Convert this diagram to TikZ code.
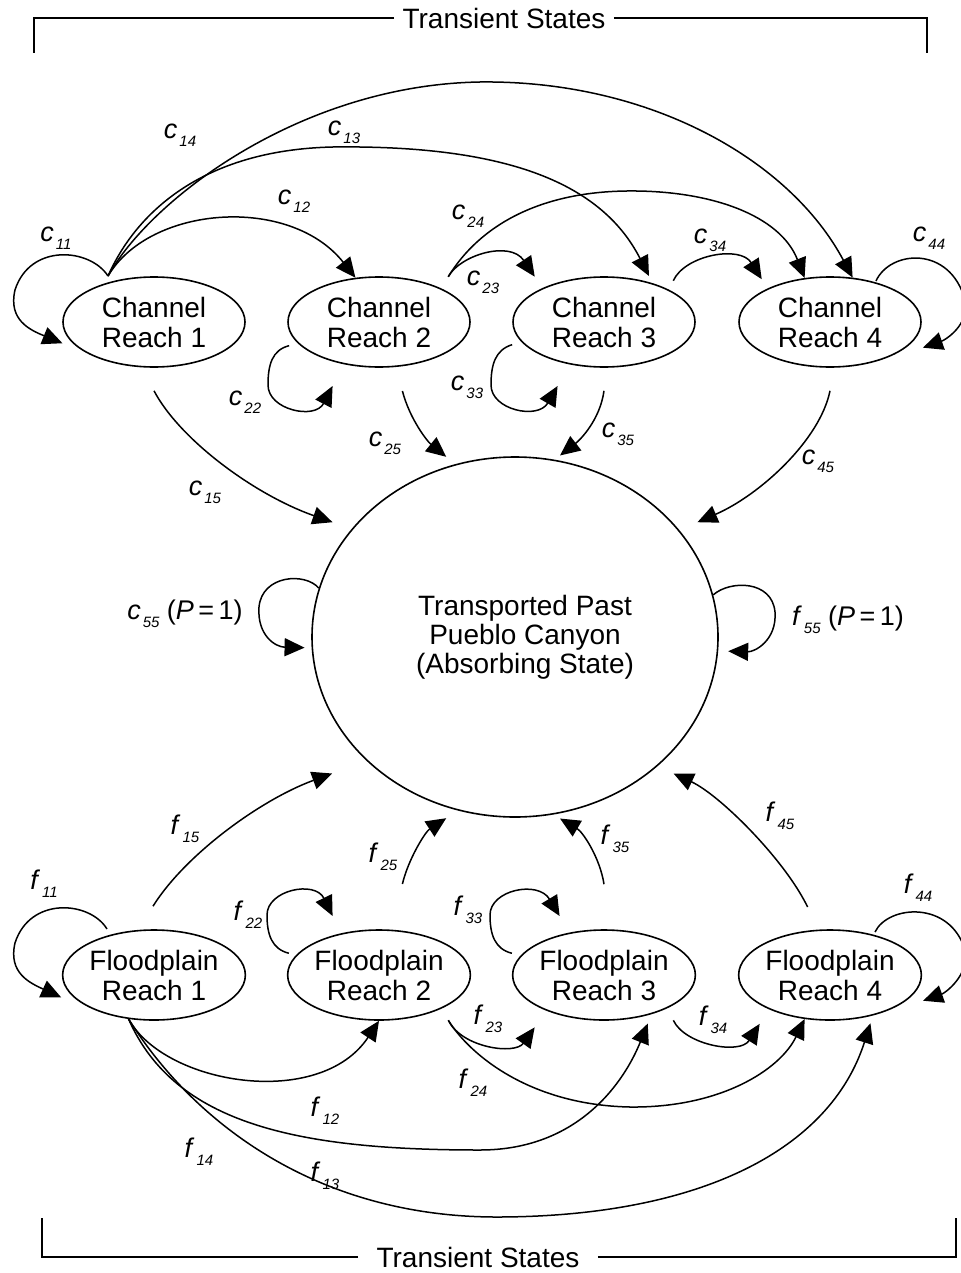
\documentclass[tikz,border=0pt]{standalone}
\usepackage{fontspec}
\setmainfont{Liberation Sans}
\usetikzlibrary{arrows.meta,shapes.geometric}

\newcommand{\lbl}[2]{\textit{#1}\kern1pt\raisebox{-4pt}{\fontsize{7.5}{8}\selectfont\textit{#2}}}

\tikzset{
	reach/.style={ellipse, draw, line width=0.8pt, minimum width=91pt, minimum height=45pt, inner sep=0pt, align=center, font=\fontsize{14}{15}\selectfont},
	absorb/.style={ellipse, draw, line width=0.8pt, minimum width=203pt, minimum height=180pt, inner sep=0pt, align=center, font=\fontsize{14}{14.5}\selectfont},
	arr/.style={-{Triangle[length=10pt,width=9pt]}, line width=0.75pt},
	lab/.style={inner sep=0pt, font=\fontsize{13.5}{14}\selectfont},
	bracket/.style={font=\fontsize{14}{15}\selectfont, inner ysep=0pt},
}

\begin{document}
\begin{tikzpicture}[x=0.5pt, y=-0.5pt]
	\useasboundingbox (0,0) rectangle (961,1273);
	
	\node[reach] (cr1) at (154,322) {Channel\\Reach 1};
	\node[reach] (cr2) at (379,322) {Channel\\Reach 2};
	\node[reach] (cr3) at (604,322) {Channel\\Reach 3};
	\node[reach] (cr4) at (830,322) {Channel\\Reach 4};
	\node[reach] (fr1) at (154,975) {Floodplain\\Reach 1};
	\node[reach] (fr2) at (379,975) {Floodplain\\Reach 2};
	\node[reach] (fr3) at (604,975) {Floodplain\\Reach 3};
	\node[reach] (fr4) at (830,975) {Floodplain\\Reach 4};
	\node[absorb] (ab) at (515,637) {\hspace*{10pt}Transported Past\\\hspace*{10pt}Pueblo Canyon\\\hspace*{10pt}(Absorbing State)};
	
	\node[bracket, inner xsep=4pt] (ttop) at (504,18) {Transient States};
	\node[bracket, inner xsep=9pt] (tbot) at (478,1257) {Transient States};
	\coordinate (ttl) at (34,53);
	\coordinate (ttr) at (927,53);
	\coordinate (tbl) at (42,1218);
	\coordinate (tbr) at (956,1218);
	\draw[line width=0.8pt] (ttop.west) -- (ttop.west -| ttl) -- (ttl);
	\draw[line width=0.8pt] (ttop.east) -- (ttop.east -| ttr) -- (ttr);
	\draw[line width=0.8pt] (tbot.west) -- (tbot.west -| tbl) -- (tbl);
	\draw[line width=0.8pt] (tbot.east) -- (tbot.east -| tbr) -- (tbr);
	
	\draw[arr] ([shift={(-5,-5)}]cr1.135) .. controls (90,248) and (30,243) .. (15,290) .. controls (8,320) and (30,330) .. ([shift={(-5,6)}]cr1.190);
	\draw[arr] ([shift={(-5,-5)}]cr1.135) .. controls (150,205) and (290,195) .. (cr2.118);
	\draw[arr] ([shift={(-5,-5)}]cr1.135) .. controls (135,215) and (200,150) .. (333,147) .. controls (500,145) and (600,180) .. ([shift={(4,-5)}]cr3.45);
	\draw[arr] ([shift={(-5,-5)}]cr1.135) .. controls (150,200) and (300,85) .. (480,82) .. controls (650,80) and (790,160) .. (cr4.63);
	\draw[arr] ([shift={(-9,2)}]cr2.195) .. controls (272,350) and (268,365) .. (268,385) .. controls (268,410) and (315,420) .. ([shift={(-21,20)}]cr2.240);
	\draw[arr] ([shift={(16,-8)}]cr2.35) .. controls (460,255) and (510,240) .. ([shift={(-16,-8)}]cr3.145);
	\draw[arr] ([shift={(16,-8)}]cr2.35) .. controls (480,225) and (540,192) .. (627,191) .. controls (710,190) and (780,215) .. (cr4.120);
	\draw[arr] ([shift={(-11,1)}]cr3.195) .. controls (495,350) and (491,365) .. (491,385) .. controls (491,410) and (538,420) .. ([shift={(-21,20)}]cr3.240);
	\draw[arr] ([shift={(16,-4)}]cr3.35) .. controls (685,255) and (740,245) .. ([shift={(-11,-7)}]cr4.148);
	\draw[arr] ([shift={(5,0)}]cr4.45) .. controls (890,250) and (950,245) .. (965,300) .. controls (970,325) and (945,340) .. ([shift={(12,4)}]cr4.345);
	
	\draw[arr] ([shift={(0,23)}]cr1.270) .. controls (180,440) and (255,495) .. ([shift={(-18,-8)}]ab.147);
	\draw[arr] ([shift={(-2,25)}]cr2.300) .. controls (410,420) and (428,442) .. ([shift={(0,-10)}]ab.112);
	\draw[arr] ([shift={(0,23)}]cr3.270) .. controls (600,420) and (580,440) .. ([shift={(1,-5)}]ab.76);
	\draw[arr] ([shift={(0,23)}]cr4.270) .. controls (820,440) and (760,495) .. ([shift={(18,-8)}]ab.33);
	\draw[arr] (ab.166) .. controls (305,572) and (262,575) .. (259,607) .. controls (257,635) and (275,647) .. ([shift={(-7,0)}]ab.183);
	\draw[arr] (ab.12) .. controls (730,580) and (772,580) .. (775,612) .. controls (777,640) and (755,652) .. ([shift={(10,0)}]ab.356);
	
	\draw[arr] ([shift={(-6,-5)}]fr1.135) .. controls (90,901) and (30,896) .. (15,943) .. controls (8,973) and (30,983) .. ([shift={(-6,7)}]fr1.190);
	\draw[arr] ([shift={(-1,-23)}]fr1.90) .. controls (185,855) and (260,800) .. ([shift={(-30,17)}]ab.218);
	\draw[arr] ([shift={(-2,-47)}]fr2.60) .. controls (408,860) and (425,832) .. ([shift={(0,11)}]ab.248);
	\draw[arr] ([shift={(0,-45)}]fr3.90) .. controls (600,858) and (583,832) .. ([shift={(1,5)}]ab.284);
	\draw[arr] ([shift={(3,-24)}]fr4.120) .. controls (785,860) and (720,795) .. ([shift={(13,10)}]ab.319);
	\draw[arr] ([shift={(-9,0)}]fr2.165) .. controls (272,949) and (267,935) .. (267,915) .. controls (267,890) and (315,880) .. ([shift={(-21,-15)}]fr2.120);
	\draw[arr] ([shift={(-11,0)}]fr3.165) .. controls (495,949) and (490,935) .. (490,915) .. controls (490,890) and (538,880) .. ([shift={(-19,-15)}]fr3.120);
	\draw[arr] ([shift={(4,-2)}]fr4.45) .. controls (888,905) and (950,900) .. (965,950) .. controls (970,975) and (945,993) .. ([shift={(12,4)}]fr4.345);
	
	\draw[arr] (fr1.240) .. controls (165,1085) and (320,1110) .. (fr2.270);
	\draw[arr] (fr1.240) .. controls (175,1125) and (300,1150) .. (480,1150) .. controls (580,1150) and (625,1080) .. ([shift={(5,7)}]fr3.313);
	\draw[arr] (fr1.240) .. controls (195,1125) and (320,1218) .. (500,1217) .. controls (700,1216) and (830,1150) .. ([shift={(5,6)}]fr4.310);
	\draw[arr] ([shift={(16,8)}]fr2.325) .. controls (462,1048) and (515,1055) .. ([shift={(-16,15)}]fr3.215);
	\draw[arr] ([shift={(16,8)}]fr2.325) .. controls (470,1055) and (530,1105) .. (630,1107) .. controls (720,1108) and (780,1070) .. (fr4.240);
	\draw[arr] ([shift={(16,8)}]fr3.325) .. controls (685,1045) and (740,1055) .. ([shift={(-13,13)}]fr4.212);
	
	\node[lab] (lc11) at (56,238) {\lbl{c}{11}};
	\node[lab] (lc12) at (294,201) {\lbl{c}{12}};
	\node[lab] (lc13) at (344,132) {\lbl{c}{13}};
	\node[lab] (lc14) at (180,135) {\lbl{c}{14}};
	\node[lab] (lc22) at (245,402) {\lbl{c}{22}};
	\node[lab] (lc23) at (483,282) {\lbl{c}{23}};
	\node[lab] (lc24) at (468,216) {\lbl{c}{24}};
	\node[lab] (lc25) at (385,443) {\lbl{c}{25}};
	\node[lab] (lc33) at (467,387) {\lbl{c}{33}};
	\node[lab] (lc34) at (710,240) {\lbl{c}{34}};
	\node[lab] (lc35) at (618,434) {\lbl{c}{35}};
	\node[lab] (lc44) at (929,238) {\lbl{c}{44}};
	\node[lab] (lc15) at (205,492) {\lbl{c}{15}};
	\node[lab] (lc45) at (818,461) {\lbl{c}{45}};
	\node[lab] (lc55) at (185,614) {\lbl{c}{55} (\textit{P}\,=\,1)};
	\node[lab] (lf55) at (848,620) {\lbl{f}{55} (\textit{P}\,=\,1)};
	\node[lab] (lf11) at (44,884) {\lbl{f}{11}};
	\node[lab] (lf15) at (185,829) {\lbl{f}{15}};
	\node[lab] (lf22) at (248,915) {\lbl{f}{22}};
	\node[lab] (lf25) at (383,857) {\lbl{f}{25}};
	\node[lab] (lf33) at (468,910) {\lbl{f}{33}};
	\node[lab] (lf35) at (615,839) {\lbl{f}{35}};
	\node[lab] (lf45) at (780,816) {\lbl{f}{45}};
	\node[lab] (lf44) at (918,888) {\lbl{f}{44}};
	\node[lab] (lf23) at (488,1019) {\lbl{f}{23}};
	\node[lab] (lf34) at (713,1020) {\lbl{f}{34}};
	\node[lab] (lf24) at (473,1083) {\lbl{f}{24}};
	\node[lab] (lf12) at (325,1111) {\lbl{f}{12}};
	\node[lab] (lf14) at (199,1152) {\lbl{f}{14}};
	\node[lab] (lf13) at (325,1176) {\lbl{f}{13}};
	
\end{tikzpicture}
\end{document}
